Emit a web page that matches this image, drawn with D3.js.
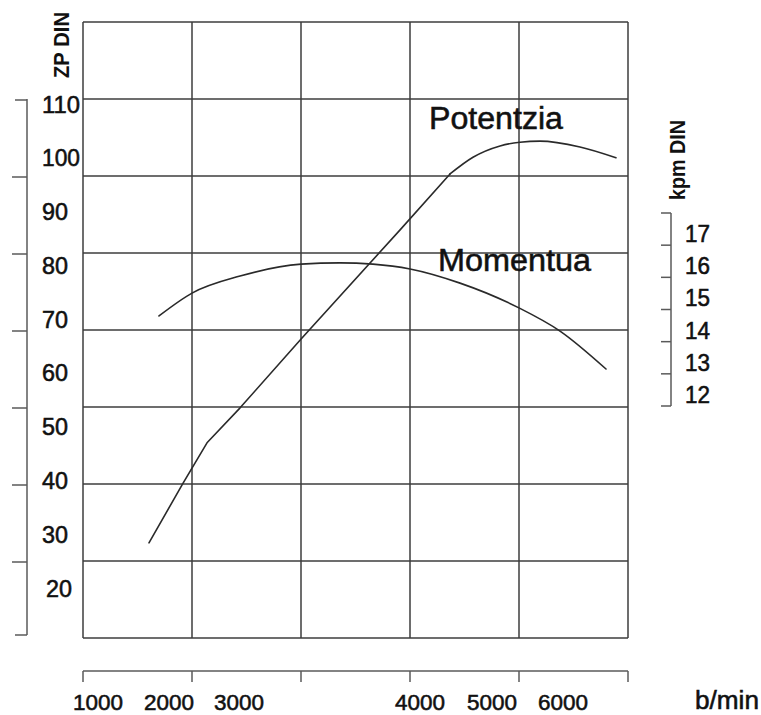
<!DOCTYPE html>
<html><head><meta charset="utf-8">
<script src="https://cdn.jsdelivr.net/npm/d3@7"></script>
<style>html,body{margin:0;padding:0;background:#fff;}svg{display:block;}text{font-family:"Liberation Sans",Arial,sans-serif;fill:#111;}</style>
</head><body>
<script>
// ---- data ----
const rpmTicks = [1000, 2000, 3000, 4000, 5000, 6000];
const zpTicks = [110, 100, 90, 80, 70, 60, 50, 40, 30, 20];
const kpmTicks = [17, 16, 15, 14, 13, 12];
// Potentzia (ZP DIN) vs b/min
const potRpm = [1718, 2197, 2543, 3006, 3343, 3890, 4417, 4736, 5113, 5394, 5676, 6239, 6746];
const potZP  = [28.4, 39.4, 47.0, 53.5, 66.3, 86.6, 97.0, 100.1, 102.2, 102.9, 103.1, 102.0, 100.0];
// Momentua (kpm DIN) vs b/min
const momRpm = [1859, 2329, 3006, 3343, 3558, 3740, 3945, 4556, 5380, 5958, 6606];
const momKpm = [14.30, 15.01, 15.54, 15.91, 15.95, 15.91, 15.76, 15.32, 14.55, 13.83, 12.65];

const W = 761, H = 715;
const svg = d3.select("body").append("svg").attr("width", W).attr("height", H);

// scales
const gridX = d3.scaleLinear().domain([0, 5]).range([83, 628]);
const gridY = d3.scaleLinear().domain([0, 8]).range([22, 638]);
const x = d3.scaleLinear().domain(rpmTicks).range([98, 169, 239, 420, 492, 563]);
const zp = d3.scaleLinear().domain([20, 110]).range([588, 104]);
const kpm = d3.scaleLinear().domain([11.5, 17.5]).range([406, 213]);

const gridColor = "#3c3c3c", axisColor = "#5a5a5a";
const bolden = sel => sel.attr("stroke", "#111").attr("stroke-width", 0.55);

// grid
const g = svg.append("g");
g.selectAll(".vl").data(d3.range(6)).join("line")
  .attr("x1", d => gridX(d)).attr("x2", d => gridX(d))
  .attr("y1", gridY(0)).attr("y2", gridY(8))
  .attr("stroke", gridColor).attr("stroke-width", 1.5);
g.selectAll(".hl").data(d3.range(9)).join("line")
  .attr("x1", gridX(0)).attr("x2", gridX(5))
  .attr("y1", d => gridY(d)).attr("y2", d => gridY(d))
  .attr("stroke", gridColor).attr("stroke-width", 1.5);

// left bracket axis
const lb = svg.append("g");
lb.append("line").attr("x1", 27).attr("x2", 27).attr("y1", gridY(1)).attr("y2", gridY(8) - 3)
  .attr("stroke", axisColor).attr("stroke-width", 1.5);
lb.selectAll(".t").data(d3.range(1, 9)).join("line")
  .attr("x1", d => d === 1 || d === 8 ? 15 : 12).attr("x2", 27)
  .attr("y1", d => d === 8 ? gridY(d) - 3 : gridY(d) + 1)
  .attr("y2", d => d === 8 ? gridY(d) - 3 : gridY(d) + 1)
  .attr("stroke", axisColor).attr("stroke-width", 1.5);
lb.selectAll("text").data(zpTicks).join("text")
  .attr("x", d => d === 20 ? 46 : 42).attr("y", d => zp(d) + 8.5)
  .attr("font-size", 23)
  .attr("textLength", d => String(d).length === 3 ? 38 : 26)
  .attr("lengthAdjust", "spacingAndGlyphs")
  .call(bolden)
  .text(d => d);
svg.append("text").attr("transform", "translate(69,45) rotate(-90)")
  .attr("text-anchor", "middle").attr("font-size", 22).attr("font-weight", "bold")
  .attr("textLength", 66).attr("lengthAdjust", "spacingAndGlyphs")
  .text("ZP DIN");

// right bracket axis
const rb = svg.append("g");
const kpmEdges = d3.range(11.5, 17.6, 1);
rb.append("line").attr("x1", 671).attr("x2", 671).attr("y1", kpm(17.5)).attr("y2", kpm(11.5))
  .attr("stroke", axisColor).attr("stroke-width", 1.5);
rb.selectAll(".t").data(kpmEdges).join("line")
  .attr("x1", 661).attr("x2", 671)
  .attr("y1", d => kpm(d)).attr("y2", d => kpm(d))
  .attr("stroke", axisColor).attr("stroke-width", 1.5);
rb.selectAll("text").data(kpmTicks).join("text")
  .attr("x", 685).attr("y", d => kpm(d) + 13)
  .attr("font-size", 23)
  .attr("textLength", 25).attr("lengthAdjust", "spacingAndGlyphs")
  .call(bolden)
  .text(d => d);
svg.append("text").attr("transform", "translate(685,160) rotate(-90)")
  .attr("text-anchor", "middle").attr("font-size", 22).attr("font-weight", "bold")
  .attr("textLength", 80).attr("lengthAdjust", "spacingAndGlyphs")
  .text("kpm DIN");

// bottom axis
const bb = svg.append("g");
bb.append("line").attr("x1", gridX(0)).attr("x2", gridX(5)).attr("y1", 671).attr("y2", 671)
  .attr("stroke", axisColor).attr("stroke-width", 1.5);
bb.selectAll(".t").data(d3.range(6)).join("line")
  .attr("x1", d => gridX(d)).attr("x2", d => gridX(d))
  .attr("y1", 671).attr("y2", 682)
  .attr("stroke", axisColor).attr("stroke-width", 1.5);
bb.selectAll("text").data(rpmTicks).join("text")
  .attr("x", d => x(d) - 25).attr("y", 710)
  .attr("font-size", 22)
  .attr("textLength", 50).attr("lengthAdjust", "spacingAndGlyphs")
  .call(bolden)
  .text(d => d);
svg.append("text").attr("x", 695).attr("y", 709).attr("font-size", 25)
  .attr("textLength", 64).attr("lengthAdjust", "spacingAndGlyphs")
  .call(bolden)
  .text("b/min");

// curves
const potPts = d3.zip(potRpm, potZP);
const arcStart = potRpm.indexOf(4417); // straight segments before, smooth arc after
const potStraight = d3.line().x(d => x(d[0])).y(d => zp(d[1])).curve(d3.curveLinear);
const potArc = d3.line().x(d => x(d[0])).y(d => zp(d[1])).curve(d3.curveMonotoneX);
const momLine = d3.line().x(d => x(d[0])).y(d => kpm(d[1])).curve(d3.curveMonotoneX);
const curveStyle = p => p.attr("fill", "none").attr("stroke", "#2a2a2a")
  .attr("stroke-width", 1.6).attr("stroke-linejoin", "round").attr("stroke-linecap", "round");
svg.append("path").datum(potPts.slice(0, arcStart + 1)).attr("d", potStraight).call(curveStyle);
svg.append("path").datum(potPts.slice(arcStart)).attr("d", potArc).call(curveStyle);
svg.append("path").datum(d3.zip(momRpm, momKpm)).attr("d", momLine).call(curveStyle);

// curve labels
svg.append("text").attr("x", 429).attr("y", 129).attr("font-size", 31)
  .attr("textLength", 134).attr("lengthAdjust", "spacingAndGlyphs")
  .call(bolden).text("Potentzia");
svg.append("text").attr("x", 438).attr("y", 271).attr("font-size", 31)
  .attr("textLength", 153).attr("lengthAdjust", "spacingAndGlyphs")
  .call(bolden).text("Momentua");
</script>
</body></html>
